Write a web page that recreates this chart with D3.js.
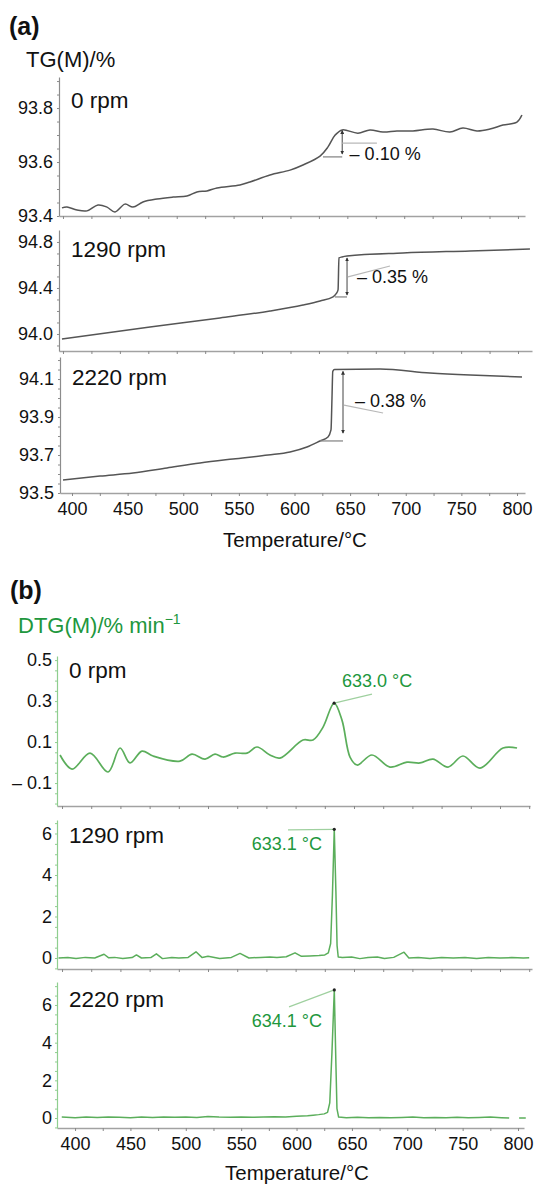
<!DOCTYPE html>
<html>
<head>
<meta charset="utf-8">
<script src="https://cdn.jsdelivr.net/npm/d3@7"></script>
<style>
  body { margin: 0; background: #fff; }
  svg { display: block; font-family: "Liberation Sans", Arial, Helvetica, sans-serif; }
</style>
</head>
<body>
<svg id="chart" width="538" height="1185"></svg>
<script>
// ---- data ----
// (a) TG curves, temperature in °C, mass in %
const tempA1 = [399.1, 403.5, 412.3, 421.1, 430.8, 438.7, 445.7, 454.5, 461.5, 470.3, 482.6, 496.7, 509, 517.8,
  526.6, 535.4, 555.6, 564.4, 582, 599.6, 611, 626, 633, 639.3, 645.5, 659.3, 669.9, 681.3, 693.6, 707.7, 725.3,
  740.2, 751.6, 764, 775.4, 786.8, 799.1, 803.5];
const tgA1 = [93.43, 93.433, 93.422, 93.419, 93.441, 93.433, 93.415, 93.444, 93.433, 93.452, 93.463, 93.47, 93.474,
  93.489, 93.493, 93.504, 93.515, 93.526, 93.552, 93.57, 93.589, 93.622, 93.656, 93.7, 93.719, 93.707, 93.719,
  93.711, 93.715, 93.715, 93.722, 93.711, 93.726, 93.715, 93.722, 93.737, 93.748, 93.774];

const tempA2 = [399.1, 476.5, 538, 582, 611, 626, 637.4, 640, 641.8, 642.6, 645.3, 649.7, 698.9, 757.8, 810.5];
const tgA2 = [93.957, 94.061, 94.139, 94.2, 94.252, 94.287, 94.322, 94.348, 94.383, 94.661, 94.67, 94.678, 94.704,
  94.722, 94.739];

const tempA3 = [391.9, 425.2, 454.8, 485.4, 515.1, 544.7, 576.2, 596, 611.2, 622.9, 630.1, 632.8, 633.7, 634.4,
  636, 676.9, 721.8, 757.8, 804.5];
const tgA3 = [93.568, 93.589, 93.605, 93.632, 93.658, 93.679, 93.7, 93.716, 93.742, 93.774, 93.795, 93.832, 94.0,
  94.14, 94.15, 94.153, 94.132, 94.121, 94.111];

// (b) DTG curves, %/min
const tempB1 = [398.3, 408.6, 424, 439.4, 449.7, 458.2, 468.5, 477.9, 501, 511.3, 522.4, 531, 537.8, 548.1, 558.4,
  567, 578, 586.6, 606.3, 614.9, 623.5, 633, 639.7, 646.6, 652.6, 665.4, 680.8, 695.4, 706.5, 717.6, 730.5, 743.3,
  757.9, 777.6, 789.6];
const dtgB1 = [0.037, -0.032, 0.046, -0.046, 0.071, -0.002, 0.056, 0.032, 0.007, 0.041, 0.017, 0.041, 0.027, 0.046,
  0.046, 0.076, 0.037, 0.022, 0.11, 0.11, 0.173, 0.29, 0.207, 0.027, -0.012, 0.037, -0.022, 0.002, -0.002, 0.017,
  -0.022, 0.032, -0.027, 0.071, 0.071];

const tempB2 = [397, 405, 412, 420, 428, 436, 440, 445, 452, 460, 463.7, 468, 476, 480.8, 486, 494, 500, 508, 514.7,
  520, 525, 535, 545, 552.4, 560, 570, 578, 584, 592, 599.5, 605, 612, 620, 625, 628, 630, 631.5, 633.1, 634.5,
  635.5, 636.5, 640, 648, 655, 662, 670, 676, 684, 692.8, 697, 705, 715, 725, 735, 745, 755, 765, 775, 785, 795, 800];
const dtgB2 = [0.0, 0.02, -0.02, 0.03, 0.0, 0.18, 0.01, 0.03, -0.02, 0.02, 0.15, 0.0, 0.02, 0.2, -0.03, 0.02, 0.0,
  0.03, 0.3, 0.02, 0.08, -0.02, 0.03, 0.22, 0.0, 0.03, 0.05, 0.03, 0.06, 0.25, 0.08, 0.1, 0.12, 0.15, 0.25, 0.7,
  3.0, 6.2, 3.2, 0.6, 0.05, 0.02, 0.05, -0.03, 0.02, 0.05, -0.02, 0.03, 0.28, 0.0, 0.02, -0.02, 0.02, 0.0, 0.03,
  -0.02, 0.02, 0.0, 0.02, 0.0, 0.01];

// null = gap in the recorded trace
const tempB3 = [388, 400, 410, 420, 430, 440, 450, 460, 470, 480, 490, 500, 510, 520, 530, 540, 550, 560, 570, 580,
  590, 600, 610, 615, 620, 625, 628, 630, 632, 634.1, 635.5, 636.5, 638, 645, 655, 665, 675, 685, 695, 705, 715,
  725, 735, 745, 755, 765, 775, 785, 792, 796, 801, 807];
const dtgB3 = [0.05, 0.02, 0.05, 0.03, 0.06, 0.04, 0.02, 0.05, 0.03, 0.06, 0.04, 0.05, 0.03, 0.08, 0.05, 0.04,
  0.06, 0.04, 0.05, 0.07, 0.05, 0.1, 0.12, 0.15, 0.18, 0.22, 0.3, 0.8, 3.5, 6.8, 3.0, 0.5, 0.05, 0.02, 0.04, 0.02,
  0.03, 0.01, 0.03, 0.06, 0.02, 0.03, 0.02, 0.04, 0.02, 0.03, 0.05, 0.02, 0.0, null, 0.0, 0.0];

const rpmLabels = ["0 rpm", "1290 rpm", "2220 rpm"];
const stepLabels = ["– 0.10 %", "– 0.35 %", "– 0.38 %"];
const peakTemps = [633.0, 633.1, 634.1];
const peakValues = [0.29, 6.2, 6.8];
const xMinorTicks = d3.range(400, 801, 25);
const xMajorTicks = d3.range(400, 801, 50);

// ---- styling ----
const FONT_TICK = 18;
const greyCurve = "#555";
const greenCurve = "#5bae5b";
const greenText = "#21973d";

const svg = d3.select("#chart");
svg.append("rect").attr("width", 538).attr("height", 1185).attr("fill", "#fff");

// small arrowhead for the step markers
svg.append("defs").append("marker")
    .attr("id", "arr")
    .attr("viewBox", "0 0 6 6")
    .attr("refX", 5).attr("refY", 3)
    .attr("markerWidth", 4).attr("markerHeight", 4)
    .attr("orient", "auto-start-reverse")
  .append("path")
    .attr("d", "M0,0 L6,3 L0,6 Z")
    .attr("fill", "#333");

function fmtSigned(d) {
    return d < 0 ? "– " + d3.format(".1f")(Math.abs(d)) : d3.format(".1f")(d);
}

// draws one stacked panel and returns its scales
function drawPanel(p) {
    const x = d3.scaleLinear().domain(p.xDomain).range(p.xRange);
    const y = d3.scaleLinear().domain(p.yDomain).range(p.yRange);

    // bottom axis: small ticks every 25 °C
    svg.append("g")
        .attr("transform", `translate(0,${p.yRange[0]})`)
        .call(d3.axisBottom(x).tickValues(xMinorTicks).tickSize(3).tickSizeOuter(0).tickFormat(""))
        .call(g => g.select(".domain").attr("stroke", "#a2a2a2").attr("stroke-width", 1.6))
        .call(g => g.selectAll(".tick line").attr("stroke", "#888"));

    if (p.xLabels) {
        svg.append("g")
            .attr("transform", `translate(0,${p.yRange[0]})`)
            .call(d3.axisBottom(x).tickValues(xMajorTicks).tickSize(3).tickPadding(6).tickSizeOuter(0))
            .call(g => g.select(".domain").remove())
            .call(g => g.selectAll(".tick line").remove())
            .call(g => g.selectAll("text").attr("font-size", FONT_TICK).attr("fill", "#111")
                .attr("font-family", "Liberation Sans, Arial, sans-serif"));
    }

    // left axis with fine minor ticks
    svg.append("g")
        .attr("transform", `translate(${p.xRange[0]},0)`)
        .call(d3.axisLeft(y).tickValues(p.yMinor).tickSize(2).tickSizeOuter(0).tickFormat(""))
        .call(g => g.select(".domain").attr("stroke", p.axisColor).attr("stroke-width", 1.2))
        .call(g => g.selectAll(".tick line").attr("stroke", p.axisColor));

    svg.append("g")
        .attr("transform", `translate(${p.xRange[0]},0)`)
        .call(d3.axisLeft(y).tickValues(p.yTicks).tickSize(0).tickPadding(p.pad).tickFormat(p.yFormat))
        .call(g => g.select(".domain").remove())
        .call(g => g.selectAll("text").attr("font-size", FONT_TICK).attr("fill", "#111")
            .attr("font-family", "Liberation Sans, Arial, sans-serif"));

    const line = d3.line()
        .defined(d => d[1] != null)
        .x(d => x(d[0]))
        .y(d => y(d[1]))
        .curve(p.curve);

    svg.append("path")
        .datum(d3.zip(p.temps, p.values))
        .attr("d", line)
        .attr("fill", "none")
        .attr("stroke", p.color)
        .attr("stroke-width", p.width)
        .attr("stroke-linejoin", "round");

    svg.append("text")
        .attr("x", p.xRange[0] + 12)
        .attr("y", y(p.yDomain[1]) + p.labelDy)
        .attr("font-size", 22.5)
        .attr("fill", "#111")
        .text(p.label);

    return { x, y };
}

// TG step annotation: arrowed height, baseline tick, leader and value
function drawStep(s, a) {
    const { x, y } = s;
    svg.append("line")
        .attr("x1", x(a.base[0])).attr("x2", x(a.arrow[0]))
        .attr("y1", y(a.base[1])).attr("y2", y(a.base[1]))
        .attr("stroke", "#8a8a8a").attr("stroke-width", 1.3);
    svg.append("line")
        .attr("x1", x(a.arrow[0])).attr("x2", x(a.arrow[0]))
        .attr("y1", y(a.arrow[1])).attr("y2", y(a.arrow[2]))
        .attr("stroke", "#444").attr("stroke-width", 1)
        .attr("marker-start", "url(#arr)").attr("marker-end", "url(#arr)");
    svg.append("line")
        .attr("x1", x(a.lead[0])).attr("y1", y(a.lead[1]))
        .attr("x2", x(a.lead[2])).attr("y2", y(a.lead[3]))
        .attr("stroke", "#b8b8b8").attr("stroke-width", 1.2);
    svg.append("text")
        .attr("x", x(a.text[0])).attr("y", y(a.text[1]))
        .attr("font-size", 18).attr("fill", "#111")
        .text(a.label);
}

// DTG peak annotation
function drawPeak(s, a) {
    const { x, y } = s;
    svg.append("line")
        .attr("x1", x(a.temp)).attr("y1", y(a.value))
        .attr("x2", x(a.lead[0])).attr("y2", y(a.lead[1]))
        .attr("stroke", "#9fd09f").attr("stroke-width", 1.2);
    svg.append("circle")
        .attr("cx", x(a.temp)).attr("cy", y(a.value)).attr("r", 1.6)
        .attr("fill", "#222");
    svg.append("text")
        .attr("x", x(a.text[0])).attr("y", y(a.text[1]))
        .attr("text-anchor", a.anchor)
        .attr("font-size", 18).attr("fill", greenText)
        .text(d3.format(".1f")(a.temp) + " °C");
}

// ---- panel (a) ----
const a1 = drawPanel({
    temps: tempA1, values: tgA1, label: rpmLabels[0], labelDy: 31,
    xDomain: [396.5, 806.2], xRange: [59, 525], yDomain: [93.4, 93.915], yRange: [216, 77],
    yTicks: [93.4, 93.6, 93.8], yMinor: d3.range(93.4, 93.91, 0.05), yFormat: d3.format(".1f"), pad: 6,
    color: greyCurve, axisColor: "#8c8c8c", width: 1.5, curve: d3.curveCatmullRom, xLabels: false
});
const a2 = drawPanel({
    temps: tempA2, values: tgA2, label: rpmLabels[1], labelDy: 27,
    xDomain: [396.5, 812.3], xRange: [59, 532], yDomain: [93.852, 94.904], yRange: [351, 230],
    yTicks: [94.0, 94.4, 94.8], yMinor: d3.range(93.9, 94.9, 0.1), yFormat: d3.format(".1f"), pad: 6,
    color: greyCurve, axisColor: "#8c8c8c", width: 1.5, curve: d3.curveMonotoneX, xLabels: false
});
const a3 = drawPanel({
    temps: tempA3, values: tgA3, label: rpmLabels[2], labelDy: 28,
    xDomain: [389.2, 807.2], xRange: [60, 525], yDomain: [93.5, 94.216], yRange: [493, 357],
    yTicks: [93.5, 93.7, 93.9, 94.1], yMinor: d3.range(93.5, 94.21, 0.05), yFormat: d3.format(".1f"), pad: 6,
    color: greyCurve, axisColor: "#8c8c8c", width: 1.5, curve: d3.curveMonotoneX, xLabels: true
});

drawStep(a1, { base: [628.6, 93.619], arrow: [645.5, 93.716, 93.63], lead: [645.5, 93.67, 676, 93.67],
    text: [652, 93.607], label: stepLabels[0] });
drawStep(a2, { base: [639, 94.322], arrow: [649.7, 94.66, 94.34], lead: [650.5, 94.496, 687.5, 94.591],
    text: [658.5, 94.443], label: stepLabels[1] });
drawStep(a3, { base: [622.9, 93.774], arrow: [643.6, 94.14, 93.816], lead: [644.5, 93.963, 679.6, 93.921],
    text: [654.4, 93.953], label: stepLabels[2] });

// ---- panel (b) ----
const b1 = drawPanel({
    temps: tempB1, values: dtgB1, label: rpmLabels[0], labelDy: 22,
    xDomain: [395.7, 800.7], xRange: [57, 530], yDomain: [-0.212, 0.52], yRange: [806, 656],
    yTicks: [-0.1, 0.1, 0.3, 0.5], yMinor: d3.range(-0.2, 0.52, 0.05), yFormat: fmtSigned, pad: 5,
    color: greenCurve, axisColor: "#8fce8f", width: 1.7, curve: d3.curveCatmullRom, xLabels: false
});
const b2 = drawPanel({
    temps: tempB2, values: dtgB2, label: rpmLabels[1], labelDy: 23,
    xDomain: [395.7, 802.4], xRange: [57, 532], yDomain: [-0.53, 6.65], yRange: [969, 820],
    yTicks: [0, 2, 4, 6], yMinor: d3.range(-0.5, 6.6, 0.5), yFormat: d3.format("d"), pad: 5,
    color: greenCurve, axisColor: "#8fce8f", width: 1.5, curve: d3.curveLinear, xLabels: false
});
const b3 = drawPanel({
    temps: tempB3, values: dtgB3, label: rpmLabels[2], labelDy: 25,
    xDomain: [383.7, 805.4], xRange: [57, 524], yDomain: [-0.53, 7.22], yRange: [1128, 982],
    yTicks: [0, 2, 4, 6], yMinor: d3.range(-0.5, 7.2, 0.5), yFormat: d3.format("d"), pad: 5,
    color: greenCurve, axisColor: "#8fce8f", width: 1.5, curve: d3.curveLinear, xLabels: true
});

drawPeak(b1, { temp: peakTemps[0], value: peakValues[0], lead: [665.4, 0.334], text: [639.7, 0.368], anchor: "start" });
drawPeak(b2, { temp: peakTemps[1], value: peakValues[1], lead: [593.5, 6.17], text: [622.6, 5.2], anchor: "end" });
drawPeak(b3, { temp: peakTemps[2], value: peakValues[2], lead: [593.2, 5.9], text: [623, 4.83], anchor: "end" });

// ---- titles ----
svg.append("text").attr("x", 9).attr("y", 35)
    .attr("font-size", 25).attr("font-weight", "bold").attr("fill", "#111").text("(a)");
svg.append("text").attr("x", 26).attr("y", 67)
    .attr("font-size", 22).attr("fill", "#111").text("TG(M)/%");
svg.append("text").attr("x", 295).attr("y", 547).attr("text-anchor", "middle")
    .attr("font-size", 20.5).attr("fill", "#111").text("Temperature/°C");

svg.append("text").attr("x", 10).attr("y", 599)
    .attr("font-size", 25).attr("font-weight", "bold").attr("fill", "#111").text("(b)");
const dtgTitle = svg.append("text").attr("x", 18).attr("y", 633)
    .attr("font-size", 22).attr("fill", greenText);
dtgTitle.append("tspan").text("DTG(M)/% min");
dtgTitle.append("tspan").attr("dy", -9).attr("font-size", 14).text("−1");
svg.append("text").attr("x", 297).attr("y", 1180).attr("text-anchor", "middle")
    .attr("font-size", 20.5).attr("fill", "#111").text("Temperature/°C");
</script>
</body>
</html>
